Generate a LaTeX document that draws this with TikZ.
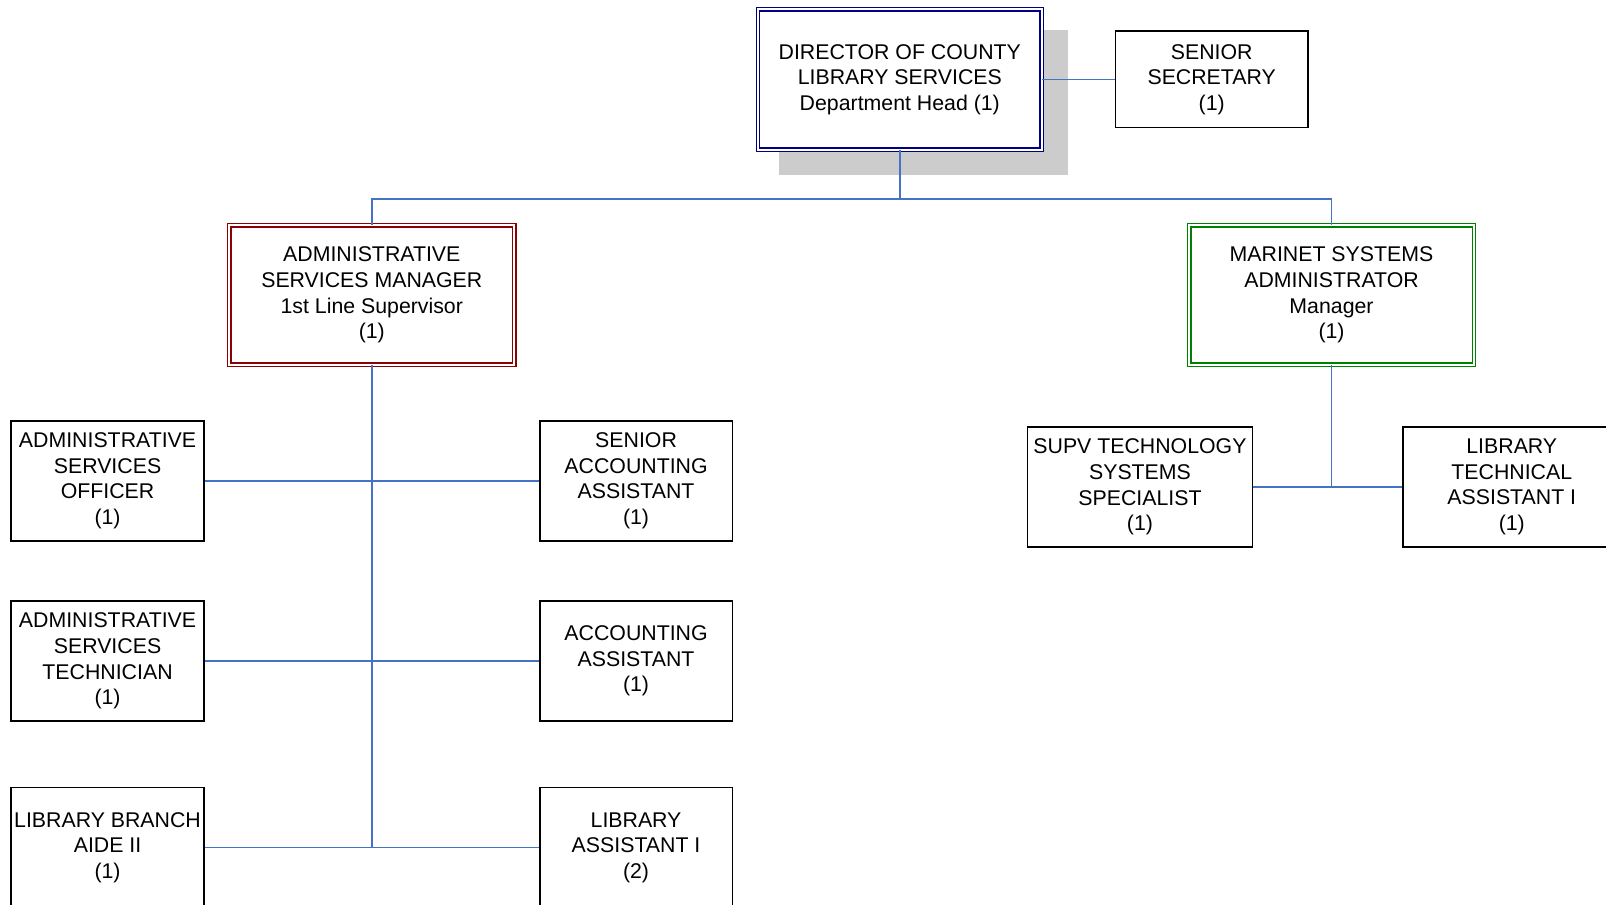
\documentclass[tikz,border=0pt]{standalone}
\usepackage{fontspec}
\setmainfont{Liberation Sans}
\usetikzlibrary{calc}
\definecolor{linkblue}{HTML}{4472C4}
\definecolor{dirblue}{HTML}{000080}
\definecolor{mgrred}{HTML}{8B0000}
\definecolor{mgrgreen}{HTML}{008000}
\definecolor{shadowgray}{HTML}{CCCCCC}
\tikzset{
  post/.style={draw=black, line width=1.5pt, fill=white, inner sep=0pt,
    align=center, font=\fontsize{20.8}{25}\selectfont},
  lead/.style={post, double=white, double distance=2pt, line width=1.3pt},
  conn/.style={draw=linkblue, line width=1.6pt},
}
\begin{document}
\begin{tikzpicture}[x=1pt,y=-1pt]
\clip (0,0) rectangle (1568,883);
\fill[white] (0,0) rectangle (1568,883);

% drop shadow behind the department head
\fill[shadowgray] (761,29) rectangle (1043,171);

% department head and secretary
\node[lead, draw=dirblue, minimum width=277pt, minimum height=137pt] (dir) at (878.5,77.5)
  {DIRECTOR OF COUNTY\\LIBRARY SERVICES\\Department Head (1)};
\node[post, minimum width=188pt, minimum height=94pt] (sec) at (1183,77.5)
  {SENIOR\\SECRETARY\\(1)};

% managers
\node[lead, draw=mgrred, minimum width=278pt, minimum height=136pt] (asm) at (363,288)
  {ADMINISTRATIVE\\SERVICES MANAGER\\1st Line Supervisor\\(1)};
\node[lead, draw=mgrgreen, minimum width=278pt, minimum height=136pt] (msa) at (1300,288)
  {MARINET SYSTEMS\\ADMINISTRATOR\\Manager\\(1)};

% administrative services staff
\node[post, minimum width=188pt, minimum height=117pt] (aso) at (105,469.5)
  {ADMINISTRATIVE\\SERVICES\\OFFICER\\(1)};
\node[post, minimum width=188pt, minimum height=117pt] (ast) at (105,645.5)
  {ADMINISTRATIVE\\SERVICES\\TECHNICIAN\\(1)};
\node[post, minimum width=188pt, minimum height=117pt] (lba) at (105,827.5)
  {LIBRARY BRANCH\\AIDE II\\(1)};
\node[post, minimum width=188pt, minimum height=117pt] (saa) at (621,469.5)
  {SENIOR\\ACCOUNTING\\ASSISTANT\\(1)};
\node[post, minimum width=188pt, minimum height=117pt] (aa) at (621,645.5)
  {ACCOUNTING\\ASSISTANT\\(1)};
\node[post, minimum width=188pt, minimum height=117pt] (la) at (621,827.5)
  {LIBRARY\\ASSISTANT I\\(2)};

% systems staff
\node[post, minimum width=220pt, minimum height=117pt] (stss) at (1113,475.5)
  {SUPV TECHNOLOGY\\SYSTEMS\\SPECIALIST\\(1)};
\node[post, minimum width=212pt, minimum height=117pt] (lta) at (1476,475.5)
  {LIBRARY\\TECHNICAL\\ASSISTANT I\\(1)};

% reporting lines
\coordinate (topbus) at (0,194);
\draw[conn] (dir.east) -- (sec.west);
\draw[conn] (dir.south) -- (dir.south |- topbus);
\draw[conn] (asm.north) -- (asm.north |- topbus) -- (msa.north |- topbus) -- (msa.north);
\draw[conn] (asm.south) -- (asm.south |- la.west);
\draw[conn] (aso.east) -- (saa.west);
\draw[conn] (ast.east) -- (aa.west);
\draw[conn] (lba.east) -- (la.west);
\draw[conn] (msa.south) -- (msa.south |- stss.east);
\draw[conn] (stss.east) -- (lta.west);
\end{tikzpicture}
\end{document}
